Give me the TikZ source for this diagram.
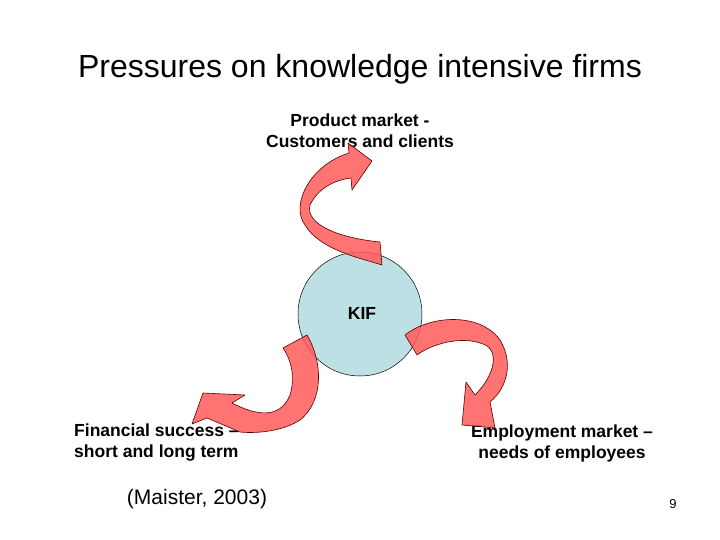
\documentclass[tikz,border=0pt]{standalone}
\usepackage{fontspec}
\setmainfont{Liberation Sans}
\begin{document}
\begin{tikzpicture}[x=1pt,y=-1pt,
  lbl/.style={font=\fontsize{17.5}{21}\selectfont\bfseries,align=center,inner sep=0pt},
  rib/.style={fill={rgb,255:red,255;green,90;blue,90},fill opacity=0.85,draw={rgb,255:red,90;green,0;blue,0},line width=0.6pt,line join=round}]
\useasboundingbox (0,0) rectangle (720,540);
\node[inner sep=0pt,font=\fontsize{32}{36}\selectfont] (title) at (360,69) {Pressures on knowledge intensive firms};
\node[circle,draw=black,line width=0.5pt,fill={rgb,255:red,188;green,224;blue,228},minimum size=124pt,inner sep=0pt] (kif) at (360,314) {};
\node[lbl] (kiflbl) at (362,313) {KIF};
\node[lbl] (prod) at (360,131) {Product market -\\Customers and clients};
\node[lbl,align=left,anchor=west] (fin) at (74,443) {Financial success –\\short and long term};
\node[lbl] (emp) at (562,443) {Employment market –\\needs of employees};
\node[inner sep=0pt,font=\fontsize{21}{24}\selectfont] (cite) at (197,499) {(Maister, 2003)};
\node[inner sep=0pt,font=\fontsize{13}{15}\selectfont] (pg) at (673,504) {9};
% top arrow
\path[rib] (372,161) -- (348,143) -- (349,153)
  .. controls (310,165) and (290,205) .. (305,225)
  .. controls (320,250) and (360,258) .. (382,265)
  -- (380,242)
  .. controls (340,238) and (305,225) .. (310,205)
  .. controls (318,188) and (335,180) .. (351,178)
  -- (352,190) -- cycle;
% left arrow
\path[rib] (203,393) -- (245,395) -- (232,403)
  .. controls (255,415) and (280,420) .. (290,395)
  .. controls (296,375) and (290,358) .. (283,348)
  -- (307,335)
  .. controls (322,360) and (325,400) .. (300,420)
  .. controls (285,430) and (260,434) .. (240,432)
  -- (207,418) -- (192,424) -- cycle;
% right arrow
\path[rib] (462,425) -- (466,382) -- (475,395)
  .. controls (495,375) and (500,350) .. (483,344)
  .. controls (460,335) and (430,345) .. (417,355)
  -- (405,335)
  .. controls (430,315) and (480,312) .. (500,340)
  .. controls (515,365) and (505,390) .. (490,402)
  -- (495,428) -- cycle;
\end{tikzpicture}
\end{document}
